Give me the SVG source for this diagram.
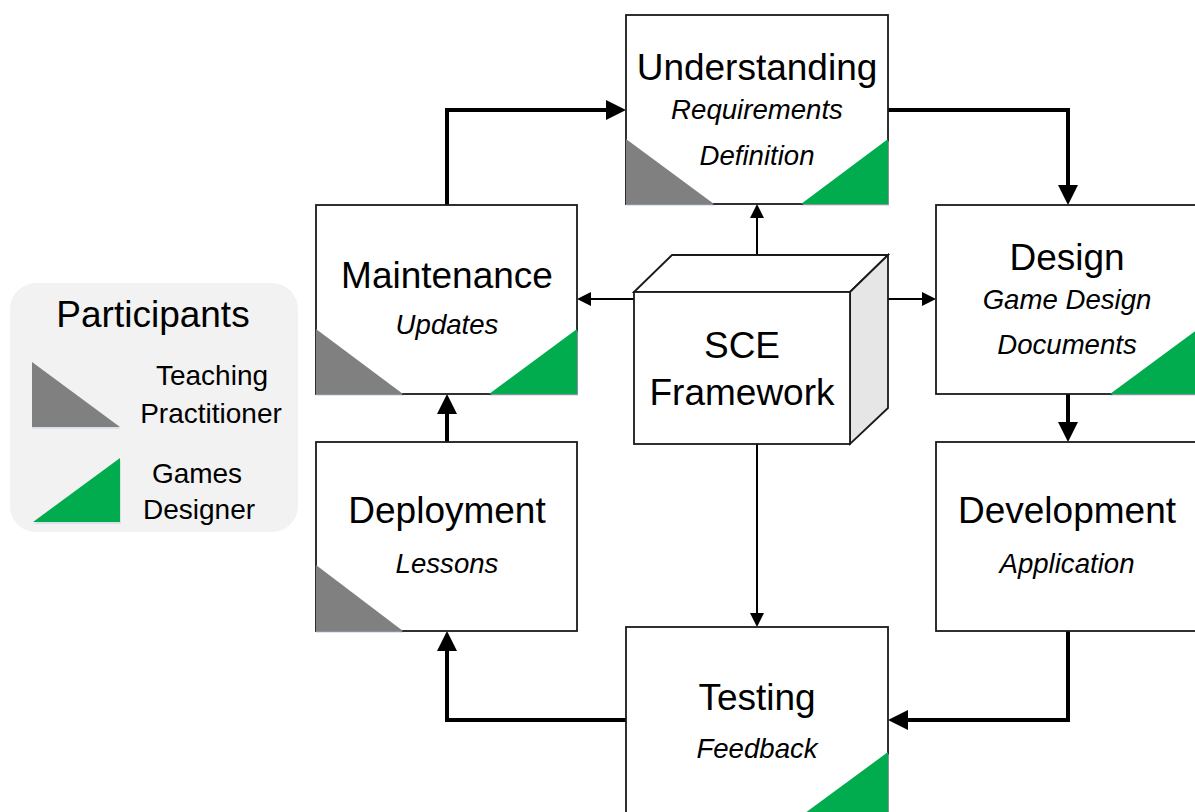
<svg xmlns="http://www.w3.org/2000/svg" width="1195" height="812" viewBox="0 0 1195 812">
<style>
.box{fill:#fff;stroke:#1a1a1a;stroke-width:1.8}
.t{font-family:"Liberation Sans",Arial,sans-serif;font-size:37px;fill:#000;text-anchor:middle}
.s{font-family:"Liberation Sans",Arial,sans-serif;font-size:27.6px;font-style:italic;fill:#000;text-anchor:middle}
.l{font-family:"Liberation Sans",Arial,sans-serif;font-size:28px;fill:#000;text-anchor:middle}
.gray{fill:#808080}
.green{fill:#00ac4e}
.sh{fill:#c9d6ea;opacity:0.6}
.thick{fill:none;stroke:#000;stroke-width:4;marker-end:url(#ah)}
.thin{fill:none;stroke:#000;stroke-width:2;marker-end:url(#at)}
</style>
<defs>
<marker id="ah" markerUnits="userSpaceOnUse" viewBox="0 0 20 20" refX="0" refY="10" markerWidth="20" markerHeight="20" orient="auto"><path d="M0,0 L20,10 L0,20 z" fill="#000"/></marker>
<marker id="at" markerUnits="userSpaceOnUse" viewBox="0 0 14 14" refX="0" refY="7" markerWidth="14" markerHeight="14" orient="auto"><path d="M0,0 L14,7 L0,14 z" fill="#000"/></marker>
</defs>
<rect width="1195" height="812" fill="#fff"/>

<g id="legend">
<rect x="10" y="283" width="288" height="249" rx="26" fill="#f2f2f2"/>
<text class="t" x="153" y="327">Participants</text>
<polygon class="sh" points="32,364 32,429 121,429"/>
<polygon class="gray" points="32,362 32,427 120,427"/>
<text class="l" x="212" y="385">Teaching</text>
<text class="l" x="211" y="423">Practitioner</text>
<polygon class="sh" points="33,524 121,460 121,524"/>
<polygon class="green" points="33,522 120,458 120,522"/>
<text class="l" x="197" y="483">Games</text>
<text class="l" x="199" y="519">Designer</text>
</g>

<g id="connectors">
<path class="thick" d="M447,205 V110 H606"/>
<path class="thick" d="M888,110 H1068 V185"/>
<path class="thick" d="M1068,394 V422"/>
<path class="thick" d="M1068,631 V720 H908"/>
<path class="thick" d="M626,720 H447 V651"/>
<path class="thick" d="M447,442 V414"/>
<path class="thin" d="M757,255 V218"/>
<path class="thin" d="M634,299 H591"/>
<path class="thin" d="M888,299 H922"/>
<path class="thin" d="M757,444 V613"/>
</g>

<g id="understanding">
<rect class="box" x="626" y="15" width="262" height="189"/>
<text class="t" x="757" y="80">Understanding</text>
<text class="s" x="757" y="119">Requirements</text>
<text class="s" x="757" y="165">Definition</text>
<polygon class="sh" points="626,141 626,206 715,206"/>
<polygon class="gray" points="626,139 626,204 714,204"/>
<polygon class="sh" points="801,206 889,206 889,141"/>
<polygon class="green" points="801,204 888,204 888,139"/>
</g>

<g id="maintenance">
<rect class="box" x="316" y="205" width="261" height="189"/>
<text class="t" x="447" y="288">Maintenance</text>
<text class="s" x="447" y="334">Updates</text>
<polygon class="sh" points="316,331 316,396 404,396"/>
<polygon class="gray" points="316,329 316,394 403,394"/>
<polygon class="sh" points="489,396 578,396 578,331"/>
<polygon class="green" points="489,394 577,394 577,329"/>
</g>

<g id="design">
<rect class="box" x="936" y="205" width="262" height="189"/>
<text class="t" x="1067" y="270">Design</text>
<text class="s" x="1067" y="309">Game Design</text>
<text class="s" x="1067" y="354">Documents</text>
<polygon class="sh" points="1110,396 1199,396 1199,331"/>
<polygon class="green" points="1110,394 1198,394 1198,329"/>
</g>

<g id="sce">
<polygon points="634,292 672,255 888,255 850,292" fill="#fff" stroke="#1a1a1a" stroke-width="1.8"/>
<polygon points="850,292 888,255 888,408 850,444" fill="#e6e6e6" stroke="#1a1a1a" stroke-width="1.8"/>
<rect class="box" x="634" y="292" width="216" height="152"/>
<text class="t" x="742" y="358">SCE</text>
<text class="t" x="742" y="405">Framework</text>
</g>

<g id="deployment">
<rect class="box" x="316" y="442" width="261" height="189"/>
<text class="t" x="447" y="523">Deployment</text>
<text class="s" x="447" y="573">Lessons</text>
<polygon class="sh" points="316,567 316,633 404,633"/>
<polygon class="gray" points="316,565 316,631 403,631"/>
</g>

<g id="development">
<rect class="box" x="936" y="442" width="262" height="189"/>
<text class="t" x="1067" y="523">Development</text>
<text class="s" x="1067" y="573">Application</text>
</g>

<g id="testing">
<rect class="box" x="626" y="627" width="262" height="189"/>
<text class="t" x="757" y="710">Testing</text>
<text class="s" x="757" y="758">Feedback</text>
<polygon class="sh" points="801,818 889,818 889,754"/>
<polygon class="green" points="801,816 888,816 888,752"/>
</g>
</svg>
